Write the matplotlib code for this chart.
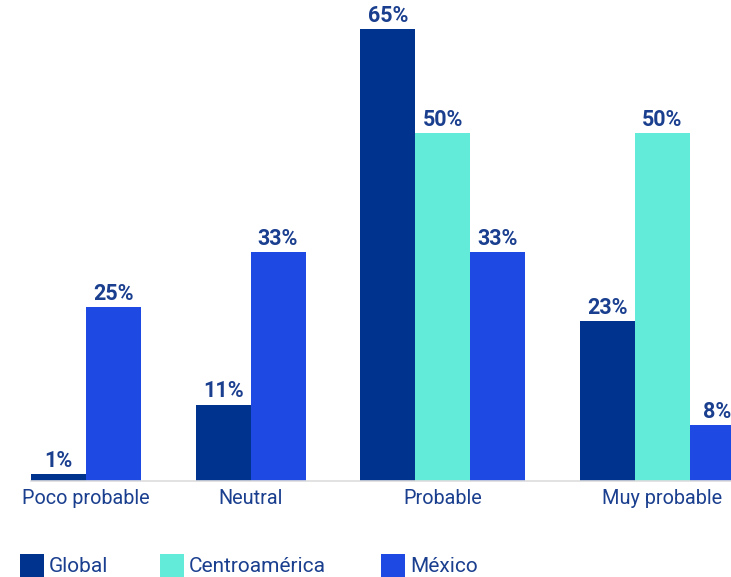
import numpy as np
import matplotlib
matplotlib.use("Agg")
import matplotlib.pyplot as plt
from matplotlib.patches import Rectangle

categorias = ["Poco probable", "Neutral", "Probable", "Muy probable"]
series = ["Global", "Centroamérica", "México"]
global_vals = [1, 11, 65, 23]
centro_vals = [0, 0, 50, 50]
mexico_vals = [25, 33, 33, 8]

colores = ["#00338D", "#63EBD9", "#1E49E2"]
texto_color = "#1B3F8F"

plt.rcParams['font.family'] = ['Roboto', 'DejaVu Sans']

fig = plt.figure(figsize=(7.31, 5.77), dpi=100)
ax = fig.add_axes([31 / 731, 96 / 577, 700 / 731, 481 / 577])

valores = [global_vals, centro_vals, mexico_vals]
# las barras en cero no se dibujan: cada grupo ocupa solo sus barras
pos = 0
centros = []
for i, cat in enumerate(categorias):
    inicio = pos
    for s in range(len(series)):
        v = valores[s][i]
        if v == 0:
            continue
        ax.bar(pos + 0.5, v, width=1.0, color=colores[s], linewidth=0)
        ax.text(pos + 0.5, v + 0.3, f"{v}%", ha="center", va="bottom",
                fontsize=15.5, fontweight="bold", color=texto_color)
        pos += 1
    centros.append((inicio + pos) / 2)
    pos += 1  # espacio entre grupos

ax.set_xlim(0, 12.75)
ax.set_ylim(0, 69.2)
ax.set_xticks(centros)
ax.set_xticklabels(categorias, fontsize=14.3, color=texto_color)
ax.tick_params(axis="x", length=0, pad=6)
ax.set_yticks([])
for lado in ["top", "right", "left"]:
    ax.spines[lado].set_visible(False)
ax.spines["bottom"].set_color("#DDDDDD")
ax.spines["bottom"].set_linewidth(1.2)

# leyenda manual en la parte inferior
leyenda_x = [20, 160, 381]
for x, nombre, c in zip(leyenda_x, series, colores):
    fig.patches.append(Rectangle((x / 731, -3 / 577), 24 / 731, 26 / 577,
                                 transform=fig.transFigure, color=c,
                                 linewidth=0))
    fig.text((x + 29) / 731, 10 / 577, nombre, fontsize=15,
             color=texto_color, va="center", ha="left")

fig.savefig("out.png", dpi=100)
